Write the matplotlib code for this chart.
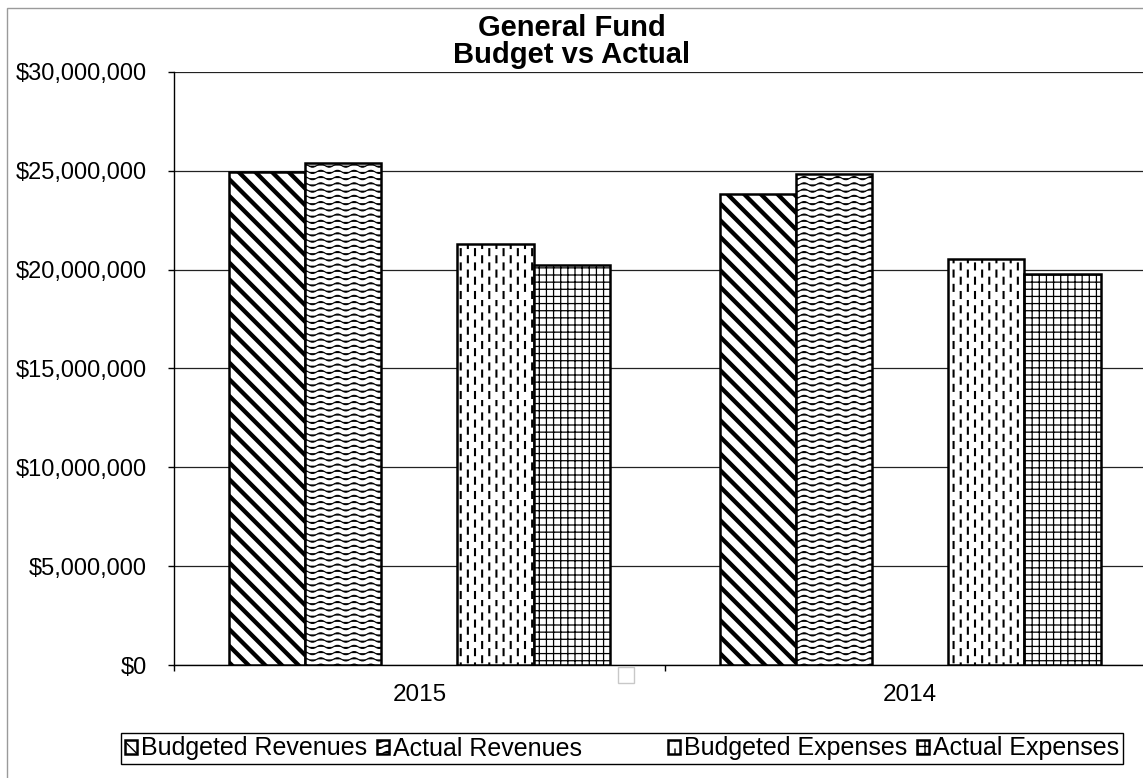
import numpy as np
import matplotlib
matplotlib.use('Agg')
import matplotlib.pyplot as plt
import matplotlib.hatch as mhatch
from matplotlib.path import Path
from matplotlib.patches import Rectangle
from matplotlib.ticker import FuncFormatter, FixedLocator

# ---------------- data ----------------
categories = ['2015', '2014']
series_names = ['Budgeted Revenues', 'Actual Revenues', '', 'Budgeted Expenses', 'Actual Expenses']
budgeted_revenues = [24_920_000, 23_840_000]
actual_revenues = [25_380_000, 24_820_000]
blank_series = [0, 0]
budgeted_expenses = [21_280_000, 20_540_000]
actual_expenses = [20_220_000, 19_800_000]
y_tick_values = [0, 5_000_000, 10_000_000, 15_000_000, 20_000_000, 25_000_000, 30_000_000]
title_lines = ['General Fund', 'Budget vs Actual']


# ---------------- custom hatch patterns ----------------
class WaveHatch(mhatch.HatchPatternBase):
    SEG = 60

    def __init__(self, hatch, density):
        self.num_lines = int(hatch.count('w') * 16)
        self.num_vertices = self.num_lines * (self.SEG + 1)

    def set_vertices_and_codes(self, vertices, codes):
        x = np.linspace(0.0, 1.0, self.SEG + 1)
        for i in range(self.num_lines):
            y0 = (i + 0.5) / self.num_lines
            s = i * (self.SEG + 1)
            e = s + self.SEG + 1
            vertices[s:e, 0] = x
            vertices[s:e, 1] = y0 + 0.016 * np.sin(2 * np.pi * 6 * x)
            codes[s:e] = Path.LINETO
            codes[s] = Path.MOVETO


class DashHatch(mhatch.HatchPatternBase):
    COLS = 14
    ROWS = 7
    LEN = 0.06

    def __init__(self, hatch, density):
        n = hatch.count('k')
        self.num_dashes = self.COLS * self.ROWS if n else 0
        self.num_vertices = self.num_dashes * 2

    def set_vertices_and_codes(self, vertices, codes):
        k = 0
        for c in range(self.COLS):
            xc = (c + 0.5) / self.COLS
            off = 0.5 if c % 2 else 0.0
            for r in range(self.ROWS):
                y0 = (r + off) / self.ROWS + 0.02
                vertices[k] = (xc, y0)
                vertices[k + 1] = (xc, y0 + self.LEN)
                codes[k] = Path.MOVETO
                codes[k + 1] = Path.LINETO
                k += 2


class GridHatch(mhatch.HatchPatternBase):
    N = 14

    def __init__(self, hatch, density):
        self.num_lines = self.N if hatch.count('g') else 0
        self.num_vertices = self.num_lines * 4

    def set_vertices_and_codes(self, vertices, codes):
        k = 0
        for i in range(self.num_lines):
            p = (i + 0.5) / self.num_lines
            vertices[k] = (0.0, p)
            vertices[k + 1] = (1.0, p)
            vertices[k + 2] = (p, 0.0)
            vertices[k + 3] = (p, 1.0)
            codes[k] = Path.MOVETO
            codes[k + 1] = Path.LINETO
            codes[k + 2] = Path.MOVETO
            codes[k + 3] = Path.LINETO
            k += 4


mhatch._hatch_types.extend([WaveHatch, DashHatch, GridHatch])
if hasattr(mhatch, '_validate_hatch_pattern'):
    mhatch._validate_hatch_pattern = lambda hatch: None


class BlankHandler:
    """Legend handler for the empty series: draws nothing but reserves extra room."""
    def legend_artist(self, legend, orig_handle, fontsize, handlebox):
        handlebox.width = handlebox.width + 36.0
        p = Rectangle((0, 0), 1, 1, facecolor='none', edgecolor='none')
        handlebox.add_artist(p)
        return p


plt.rcParams['font.family'] = ['Liberation Sans', 'DejaVu Sans']
plt.rcParams['hatch.color'] = 'black'

W, H = 1143, 778
fig = plt.figure(figsize=(W / 100, H / 100), dpi=100)
fig.patch.set_facecolor('white')

ax = fig.add_axes([174 / W, 1 - 665 / H, 981.4 / W, (665 - 72) / H])

x = np.arange(len(categories))
bar_w = 0.1553
offsets = (np.arange(5) - 2) * bar_w

series = [budgeted_revenues, actual_revenues, blank_series, budgeted_expenses, actual_expenses]
hatches = ['\\\\', 'w', None, 'k', 'g']
hatch_lws = [3.1, 0.8, None, 1.5, 0.9]

handles = []
blank_handle = None
for i, (vals, hp, hlw) in enumerate(zip(series, hatches, hatch_lws)):
    if hp is None:
        blank_handle = Rectangle((0, 0), 1, 1, facecolor='none', edgecolor='none')
        handles.append(blank_handle)
        continue
    with plt.rc_context({'hatch.linewidth': hlw}):
        bc = ax.bar(x + offsets[i], vals, width=bar_w, facecolor='white',
                    edgecolor='black', linewidth=1.8, hatch=hp, zorder=3,
                    label=series_names[i])
    for p in bc:
        if hasattr(p, 'set_hatch_linewidth'):
            p.set_hatch_linewidth(hlw)
    handles.append(bc)

ax.set_xlim(-0.5, 1.5)
ax.set_ylim(0, 30_000_000)
ax.set_yticks(y_tick_values)
ax.yaxis.set_major_formatter(FuncFormatter(lambda v, pos: '${:,.0f}'.format(v)))
ax.grid(axis='y', color='#222222', linewidth=0.9, zorder=0)
ax.set_axisbelow(True)

ax.set_xticks(x)
ax.set_xticklabels(categories)
ax.xaxis.set_minor_locator(FixedLocator([-0.5, 0.5, 1.5]))
ax.tick_params(axis='x', which='major', length=0, pad=14, labelsize=17.5)
ax.tick_params(axis='x', which='minor', length=4.5, width=1.0, direction='out', color='black')
ax.tick_params(axis='y', length=4.5, width=1.0, direction='out', pad=15, labelsize=17, color='black')

for side in ['top', 'right']:
    ax.spines[side].set_visible(False)
for side in ['left', 'bottom']:
    ax.spines[side].set_color('black')
    ax.spines[side].set_linewidth(1.0)

# title (two lines)
fig.text(0.5, 1 - 36 / H, title_lines[0], ha='center', va='baseline',
         fontsize=21, fontweight='bold')
fig.text(0.5, 1 - 63 / H, title_lines[1], ha='center', va='baseline',
         fontsize=21, fontweight='bold')

# legend
leg = fig.legend(handles, series_names, loc='center right',
                 bbox_to_anchor=(1123 / W, 1 - 748.5 / H), ncol=5,
                 fontsize=18, frameon=True, fancybox=False, shadow=False,
                 handlelength=0.48, handleheight=0.48, handletextpad=0.16,
                 columnspacing=0.4, borderpad=0.15, borderaxespad=0.0,
                 framealpha=1.0, edgecolor='black',
                 handler_map={blank_handle: BlankHandler()})
leg.get_frame().set_linewidth(1.0)

# outer chart-area border (left/top visible)
fig.add_artist(Rectangle((7 / W, -0.1), 1.2, (H - 8) / H + 0.1, transform=fig.transFigure,
                         fill=False, edgecolor='#9a9a9a', linewidth=1.0))
# stray empty legend marker seen under the axis
fig.add_artist(Rectangle((618 / W, 1 - 683 / H), 16 / W, 16 / H, transform=fig.transFigure,
                         fill=False, edgecolor='#c8c8c8', linewidth=1.0))

fig.savefig('out.png', dpi=100, facecolor='white')
